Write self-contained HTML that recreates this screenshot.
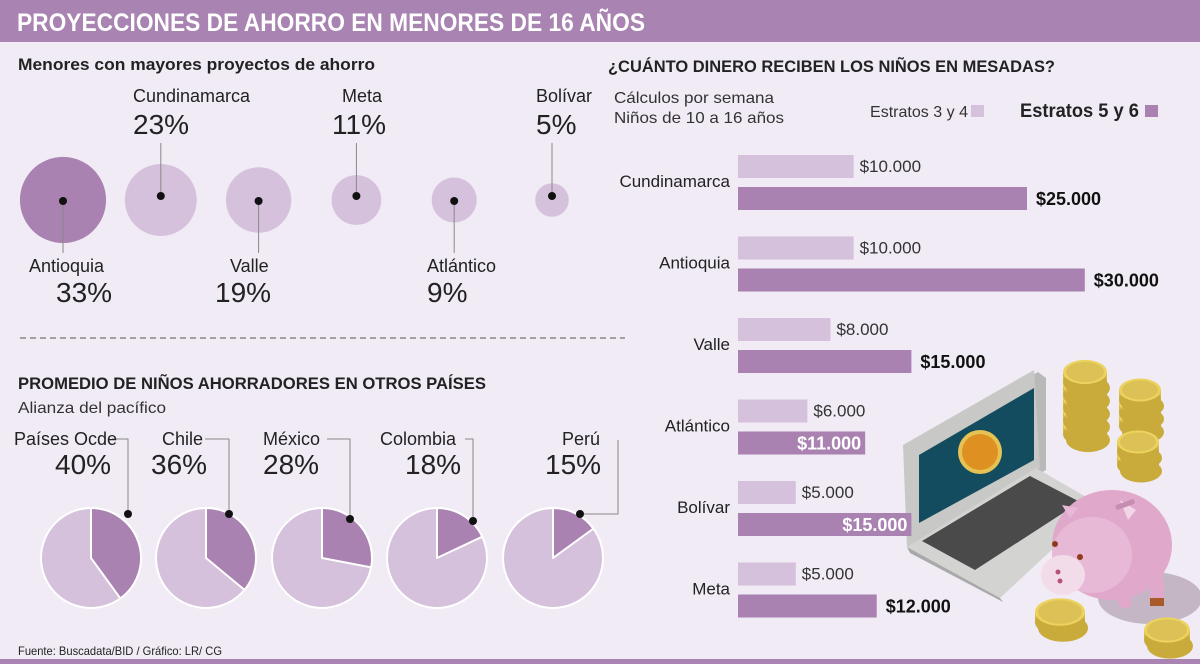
<!DOCTYPE html>
<html><head><meta charset="utf-8"><style>
html,body{margin:0;padding:0;background:#f1ebf5;}
svg{display:block;font-family:"Liberation Sans",sans-serif;}
</style></head><body>
<svg id="root" width="1200" height="664" viewBox="0 0 1200 664" xmlns="http://www.w3.org/2000/svg">
<rect x="0" y="0" width="1200" height="664" fill="#f1ebf5"/>
<rect x="0" y="0" width="1200" height="42" fill="#a983b1"/>
<text x="17" y="31" fill="#fff" font-weight="bold" font-size="25" textLength="628" lengthAdjust="spacingAndGlyphs">PROYECCIONES DE AHORRO EN MENORES DE 16 AÑOS</text>
<rect x="0" y="659" width="1200" height="5" fill="#a983b1"/>
<text x="18" y="70" fill="#222" font-weight="bold" font-size="17" textLength="357" lengthAdjust="spacingAndGlyphs">Menores con mayores proyectos de ahorro</text>
<line x1="20" y1="338" x2="625" y2="338" stroke="#555" stroke-width="1" stroke-dasharray="6,4"/>
<text x="18" y="389" fill="#222" font-weight="bold" font-size="17" textLength="468" lengthAdjust="spacingAndGlyphs">PROMEDIO DE NIÑOS AHORRADORES EN OTROS PAÍSES</text>
<text x="18" y="413" fill="#333" font-size="16" textLength="148" lengthAdjust="spacingAndGlyphs">Alianza del pacífico</text>
<text x="18" y="655" fill="#222" font-size="12" textLength="204" lengthAdjust="spacingAndGlyphs">Fuente: Buscadata/BID / Gráfico: LR/ CG</text>
<text x="608" y="72" fill="#222" font-weight="bold" font-size="17" textLength="447" lengthAdjust="spacingAndGlyphs">¿CUÁNTO DINERO RECIBEN LOS NIÑOS EN MESADAS?</text>
<text x="614" y="103" fill="#333" font-size="16" textLength="160" lengthAdjust="spacingAndGlyphs">Cálculos por semana</text>
<text x="614" y="123" fill="#333" font-size="16" textLength="170" lengthAdjust="spacingAndGlyphs">Niños de 10 a 16 años</text>
<g>
<text x="870" y="117" fill="#333" font-size="16" textLength="98" lengthAdjust="spacingAndGlyphs">Estratos 3 y 4</text>
<rect x="971" y="105" width="13" height="12" fill="#d5c1dc"/>
<text x="1020" y="117" fill="#222" font-weight="bold" font-size="19" textLength="119" lengthAdjust="spacingAndGlyphs">Estratos 5 y 6</text>
<rect x="1145" y="105" width="13" height="12" fill="#a982b1"/>
</g>
<g id="illus">
<polygon points="907,445 1038,372 1046,378 1046,470 914,548" fill="#b9b9b9"/>
<polygon points="903,445 1034,370 1040,468 907,547" fill="#c8c8c6"/>
<polygon points="919,455 1034,388 1034,460 919,523" fill="#134c5e"/>
<circle cx="980" cy="452" r="22" fill="#e4c254"/>
<circle cx="980" cy="452" r="18" fill="#de9121"/>
<polygon points="907,547 1036,468 1100,505 1000,598" fill="#d3d3d1"/>
<polygon points="907,547 1000,598 1003,602 910,553" fill="#a9a9a9"/>
<polygon points="922,541 1030,476 1080,502 975,570" fill="#4a4a4a"/>
<ellipse cx="1150" cy="598" rx="52" ry="26" fill="#c4b6c4"/>
<rect x="1150" y="575" width="14" height="30" rx="6" fill="#e0a9cb"/>
<rect x="1118" y="580" width="14" height="28" rx="6" fill="#e0a9cb"/>
<rect x="1150" y="598" width="14" height="8" fill="#a9592a"/>
<ellipse cx="1112" cy="545" rx="60" ry="55" fill="#e0a9cb"/>
<ellipse cx="1092" cy="555" rx="40" ry="38" fill="#e7b9d6"/>
<polygon points="1062,505 1070,518 1078,508" fill="#e7b9d6"/>
<polygon points="1120,500 1128,520 1136,510" fill="#f2d5e6"/>
<ellipse cx="1063" cy="575" rx="22" ry="20" fill="#f3dcea"/>
<circle cx="1058" cy="572" r="2.5" fill="#b5537e"/><circle cx="1060" cy="581" r="2.5" fill="#b5537e"/>
<circle cx="1055" cy="544" r="3" fill="#8f3b1b"/><circle cx="1080" cy="557" r="3" fill="#8f3b1b"/>
<rect x="1115" y="502" width="20" height="5" rx="2" fill="#c78db1" transform="rotate(-20 1125 504)"/>
</g>
<g id="bubbles"></g>
<g id="pies"></g>
<g id="bars"></g>
<g id="coins"></g>
</svg>
<script>
const NS = "http://www.w3.org/2000/svg";
// Bubble data
const bubbleRegions = ["Antioquia","Cundinamarca","Valle","Meta","Atlántico","Bolívar"];
const bubbleValues = [33,23,19,11,9,5];
// Pie data
const pieCountries = ["Países Ocde","Chile","México","Colombia","Perú"];
const pieValues = [40,36,28,18,15];
// Bar data
const barCategories = ["Cundinamarca","Antioquia","Valle","Atlántico","Bolívar","Meta"];
const barLow = [10000,10000,8000,6000,5000,5000];
const barHigh = [25000,30000,15000,11000,15000,12000];

function mk(tag, attrs, parent){ const e=document.createElementNS(NS,tag); for(const k in attrs) e.setAttribute(k,attrs[k]); parent.appendChild(e); return e; }
function fmt(v){ return "$"+v.toLocaleString("de-DE"); }

// Bubbles
const bg = document.getElementById("bubbles");
const bx = i => 63 + i*97.8;
const br = v => Math.sqrt(v)*7.5;
bubbleRegions.forEach((name,i)=>{
  const v = bubbleValues[i], cx = bx(i), cy = 200, up = i%2===1;
  const c = mk("circle",{cx:cx,cy:cy,r:br(v),fill:i===0?"#a982b1":"#d5c1dc"},bg);
  
  
  const dy = up?196:201;
  const ln = mk("line",{x1:cx,y1:dy,x2:cx,y2:up?143:253,stroke:"#888","stroke-width":1},bg);
  
  
  const d = mk("circle",{cx:cx,cy:dy,r:4,fill:"#111"},bg);
  
  
  const lx = [29,133,230,342,427,536][i];
  const px = [56,133,215,332,427,536][i];
  const t = mk("text",{x:lx,y:up?102:272,"font-size":18,fill:"#222"},bg);
  t.textContent = name;
  
  
  const p = mk("text",{x:px,y:up?134:302,"font-size":28,fill:"#222"},bg);
  p.textContent = v+"%";
  
  
});

// Pies
const pg = document.getElementById("pies");
const pieCx = [91,206,322,437,553], pieCy = 558, pieR = 50;
const labX = [14,162,263,380,562], pctX=[55,151,263,405,545];
const leaders = [
  "M112,439 H128 V514","M205,439 H229 V514","M327,439 H350 V519","M465,439 H473 V521","M618,440 V514 H580"];
const dots = [[128,514],[229,514],[350,519],[473,521],[580,514]];
pieCountries.forEach((name,i)=>{
  const cx=pieCx[i], v=pieValues[i];
  const base = mk("circle",{cx:cx,cy:pieCy,r:pieR,fill:"#d5c1dc",stroke:"#fff","stroke-width":2},pg);
  
  
  const a = v/100*2*Math.PI;
  const ex = cx+pieR*Math.sin(a), ey = pieCy-pieR*Math.cos(a);
  const s = mk("path",{d:`M${cx},${pieCy} L${cx},${pieCy-pieR} A${pieR},${pieR} 0 ${v>50?1:0} 1 ${ex},${ey} Z`,fill:"#a982b1",stroke:"#fff","stroke-width":2,"stroke-linejoin":"round"},pg);
  
  
  const l = mk("path",{d:leaders[i],fill:"none",stroke:"#888","stroke-width":1},pg);
  
  
  const dd = mk("circle",{cx:dots[i][0],cy:dots[i][1],r:4,fill:"#111"},pg);
  
  
  const t = mk("text",{x:labX[i],y:445,"font-size":18,fill:"#222"},pg);
  t.textContent=name;
  
  
  const p = mk("text",{x:pctX[i],y:474,"font-size":28,fill:"#222"},pg);
  p.textContent=v+"%";
  
  
});

// Bars
const barG = document.getElementById("bars");
const x0 = 738, k = 11.56/1000;
const xs = v => v*k;
const rowY = i => 155 + i*81.5;
barCategories.forEach((name,i)=>{
  const y = rowY(i);
  const b1 = mk("rect",{x:x0,y:y,width:xs(barLow[i]),height:23,fill:"#d5c1dc"},barG);
  
  
  const b2 = mk("rect",{x:x0,y:y+32,width:xs(barHigh[i]),height:23,fill:"#a982b1"},barG);
  
  
  const t1 = mk("text",{x:x0+xs(barLow[i])+6,y:y+17,"font-size":17,fill:"#333"},barG);
  t1.textContent=fmt(barLow[i]);
  
  
  const inside = (i===3||i===4);
  const t2 = mk("text",{x:inside?x0+xs(barHigh[i])-4:x0+xs(barHigh[i])+9,y:y+50,"font-size":18,"font-weight":"bold",fill:inside?"#fff":"#111","text-anchor":inside?"end":"start"},barG);
  t2.textContent=fmt(barHigh[i]);
  
  
  const c = mk("text",{x:730,y:y+32,"font-size":17,fill:"#222","text-anchor":"end"},barG);
  c.textContent=name;
  
  
});

// Coins
const cg = document.getElementById("coins");
function stack(cx, topY, n, rx){
  for(let j=n-1;j>=0;j--){
    const y = topY + j*13;
    mk("ellipse",{cx:cx+3,cy:y+16,rx:rx,ry:rx*0.55,fill:"#c9ab3c"},cg);
    mk("rect",{x:cx-rx,y:y,width:rx*2,height:10,fill:"#d8bb48"},cg);
    mk("ellipse",{cx:cx,cy:y+10,rx:rx,ry:rx*0.55,fill:"#c9ab3c"},cg);
    mk("ellipse",{cx:cx,cy:y,rx:rx,ry:rx*0.55,fill:"#ecd35e"},cg);
    mk("ellipse",{cx:cx,cy:y,rx:rx-3,ry:rx*0.55-2,fill:"#dcc157"},cg);
  }
}
stack(1085,372,5,22); stack(1140,390,3,21); stack(1138,442,2,21);
stack(1060,612,1,25); stack(1167,630,1,23);
</script>
</body></html>
